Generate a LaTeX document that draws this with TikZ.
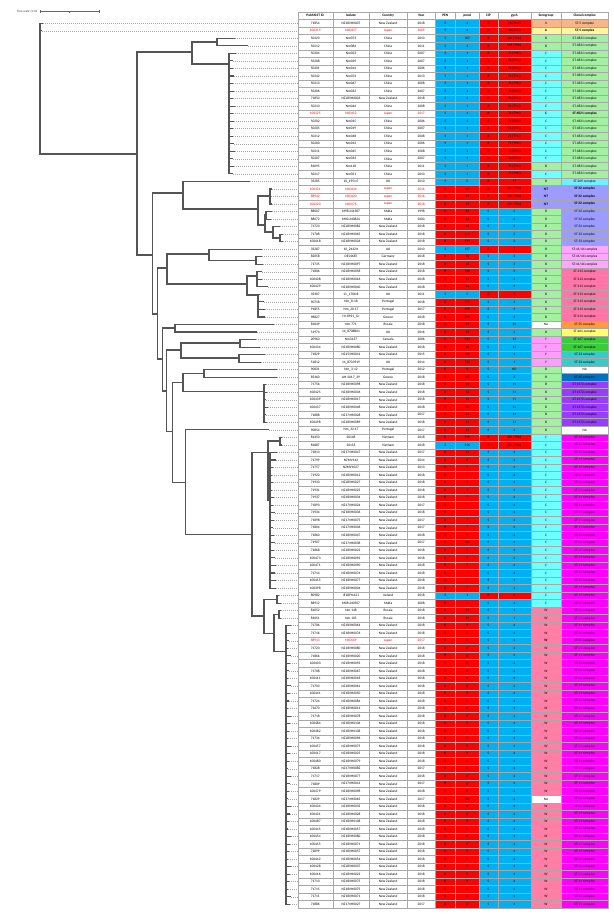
\documentclass[tikz,border=0pt]{standalone}
\usepackage{fontspec}
\setmainfont{Carlito}
\definecolor{resS}{HTML}{00B0F0}
\definecolor{resR}{HTML}{FF0000}
\definecolor{seroX}{HTML}{F8B58A}
\definecolor{seroA}{HTML}{FFF59D}
\definecolor{seroB}{HTML}{A3F0A3}
\definecolor{seroC}{HTML}{70FFFF}
\definecolor{seroNT}{HTML}{9C9CFF}
\definecolor{seroY}{HTML}{FF9CFF}
\definecolor{seroW}{HTML}{FF7FA6}
\definecolor{seroNA}{HTML}{FFFFFF}
\definecolor{cc5x}{HTML}{F8B58A}
\definecolor{cc5a}{HTML}{FFF59D}
\definecolor{cc4821}{HTML}{A3F0A3}
\definecolor{cc269}{HTML}{70F0FF}
\definecolor{cc32}{HTML}{9C9CFF}
\definecolor{cc4144}{HTML}{FFA6FF}
\definecolor{cc213}{HTML}{FF75A8}
\definecolor{cc35}{HTML}{FF9A3C}
\definecolor{cc461}{HTML}{FFFF6A}
\definecolor{cc167}{HTML}{3CCB3C}
\definecolor{cc23}{HTML}{36CCCC}
\definecolor{ccNA}{HTML}{FFFFFF}
\definecolor{cc60}{HTML}{0070C0}
\definecolor{cc1572}{HTML}{9A3CFF}
\definecolor{cc11}{HTML}{FF00FF}
\definecolor{jpred}{HTML}{FF0000}
\definecolor{gridc}{HTML}{A8A8A8}
\definecolor{treec}{HTML}{555555}
\newcommand\defcc[2]{\expandafter\def\csname cct#1\endcsname{#2}}
\defcc{5x}{ST-5 complex}\defcc{5a}{ST-5 complex}\defcc{4821}{ST-4821 complex}
\defcc{269}{ST-269 complex}\defcc{32}{ST-32 complex}\defcc{4144}{ST-41/44 complex}
\defcc{213}{ST-213 complex}\defcc{35}{ST-35 complex}\defcc{461}{ST-461 complex}
\defcc{167}{ST-167 complex}\defcc{23}{ST-23 complex}\defcc{NA}{NA}
\defcc{60}{ST-60 complex}\defcc{1572}{ST-1572 complex}\defcc{11}{ST-11 complex}
\newcommand\cellfont{\fontsize{3.5}{4}\selectfont}
\newif\ifjp
\tikzset{
  cellbox/.style={draw=gridc, line width=0.3pt, inner sep=0pt, outer sep=0pt,
    minimum height=7.53pt, font=\cellfont, anchor=center},
  branch/.style={draw=treec, line width=1.1pt},
  leafline/.style={draw=black!35, line width=0.5pt, dash pattern=on 0.7pt off 1.3pt},
  rowtext/.style={text=black}
}
\newcommand\tr[6]{%
  \xdef\curk{#1}%
  \pgfmathsetmacro\cy{23.3+7.53*(#1-1)}%
  \ifnum#6=1 \global\jptrue\tikzset{rowtext/.style={text=jpred}}%
  \else\global\jpfalse\tikzset{rowtext/.style={text=black}}\fi
  \node[cellbox, rowtext, minimum width=35pt] (c#1-1) at (315.2,\cy) {#2};
  \node[cellbox, rowtext, minimum width=36.6pt] (c#1-2) at (351,\cy) {#3};
  \node[cellbox, rowtext, minimum width=37.7pt] (c#1-3) at (388.15,\cy) {#4};
  \node[cellbox, rowtext, minimum width=28.3pt] (c#1-4) at (421.15,\cy) {#5};
}
\newcommand\tc[6]{%
  \node[cellbox, minimum width=20pt, fill=res#1] (c\curk-5) at (445.3,\cy) {#1};
  \node[cellbox, minimum width=24pt, fill=res#1] (c\curk-6) at (467.3,\cy) {#2};
  \node[cellbox, minimum width=18.4pt, fill=res#3] (c\curk-7) at (488.5,\cy) {#3};
  \node[cellbox, minimum width=33.3pt, fill=res#3] (c\curk-8) at (514.35,\cy) {#4};
  \node[cellbox, minimum width=30pt, fill=sero#5] (c\curk-9) at (546,\cy) {\ifjp\bfseries\fi #5};
  \node[cellbox, minimum width=47.3pt, fill=cc#6] (c\curk-10) at (584.65,\cy) {\ifjp\bfseries\fi\csname cct#6\endcsname};
}
\newcommand\rowC[6]{\tr{#1}{#2}{#3}{#4}{#5}{#6}\tc{S}{1}{R}{71 (T91I)}{C}{4821}}
\newcommand\rowE[5]{\tr{#1}{#2}{#3}{New Zealand}{#4}{0}\tc{R}{#5}{S}{4}{C}{11}}
\newcommand\rowW[4]{\tr{#1}{#2}{#3}{New Zealand}{#4}{0}\tc{R}{8}{S}{4}{W}{11}}
\newcommand\rowP[6]{\tr{#1}{#2}{#3}{New Zealand}{#4}{0}\tc{R}{#5}{S}{11}{B}{#6}}
\newcommand\tleaf[3]{%
  \coordinate (L#2) at (#3,{23.3+7.53*(#2-1)});
  \draw[leafline] (L#2) -- (L#2 -| tl);
  \draw[branch] (#1) |- (L#2);
}
\newcommand\tnode[4]{%
  \coordinate (#1) at (#3,#4);
  \draw[branch] (#2) |- (#1);
}
\begin{document}
\begin{tikzpicture}[x=1pt,y=-1pt]
\fill[white] (0,0) rectangle (613,915);
\useasboundingbox (0,0) rectangle (613,915);
\coordinate (tl) at (297.7,0);
% scale bar
\node[font=\fontsize{3.2}{4}\selectfont, text=black!75, anchor=east, inner sep=0pt] (scaletxt) at (37.5,11.7) {Tree scale: 0.01};
\coordinate (sb1) at (40,11.7);
\coordinate (sb2) at (99,11.7);
\coordinate (sbm) at (69.5,11.7);
\draw[draw=black!60, line width=0.5pt] (sb1) -- (sb2);
\draw[draw=black!60, line width=0.5pt] ([yshift=-1.3pt]sb1) -- ([yshift=1.3pt]sb1);
\draw[draw=black!60, line width=0.5pt] ([yshift=-1.3pt]sb2) -- ([yshift=1.3pt]sb2);
\draw[draw=black!60, line width=0.5pt] ([yshift=-1pt]sbm) -- ([yshift=1pt]sbm);
% tree
\coordinate (root) at (40,27);
\tleaf{root}{1}{43}
\tleaf{root}{2}{42}
\tnode{n137}{root}{137}{154}
\tnode{n192}{n137}{192}{52}
\tnode{n217}{n192}{217}{42}
\tleaf{n217}{3}{235}
\tleaf{n217}{4}{248}
\tnode{n229}{n192}{229}{64}
\foreach \k/\t in {5/236,6/233,7/233,8/234,9/233,10/234,11/233,12/235,13/233,14/234,15/233,16/233,17/234,18/235,19/233,20/234,21/233}{\tleaf{n229}{\k}{\t}}
\tnode{n152}{n137}{152.5}{255}
\tnode{n183}{n152}{183}{193}
\tleaf{n183}{22}{250}
\tnode{n258}{n183}{258}{209}
\tnode{n270}{n258}{270}{196}
\tleaf{n270}{23}{272}\tleaf{n270}{24}{271}\tleaf{n270}{25}{272}
\tnode{n265}{n258}{265}{225}
\tnode{n266}{n265}{266}{215}
\tleaf{n266}{26}{272}\tleaf{n266}{27}{271}
\tnode{n273}{n265}{273}{232}
\tleaf{n273}{28}{280}
\tnode{n280}{n273}{280}{238}
\tleaf{n280}{29}{283}\tleaf{n280}{30}{283}
\tnode{n157}{n152}{157.3}{314}
\tnode{n167}{n157}{167}{268}
\tnode{n209}{n167}{209}{254}
\tleaf{n209}{31}{262}
\tnode{n256}{n209}{256}{260.5}
\tleaf{n256}{32}{262}\tleaf{n256}{33}{263}
\tnode{n247}{n167}{247}{284}
\tnode{n257}{n247}{257}{276}
\tleaf{n257}{34}{262}\tleaf{n257}{35}{262}\tleaf{n257}{36}{268}
\tnode{n258b}{n247}{258}{295}
\tleaf{n258b}{37}{260}\tleaf{n258b}{38}{264}\tleaf{n258b}{39}{265}\tleaf{n258b}{40}{265}
\tnode{n162}{n157}{162.3}{359}
\tnode{n175}{n162}{175}{328}
\tleaf{n175}{41}{274}\tleaf{n175}{42}{257}
\tnode{n166}{n162}{166.7}{391}
\tnode{n181}{n166}{181}{350}
\tnode{n240}{n181}{240}{343}
\tleaf{n240}{43}{256}\tleaf{n240}{44}{260}
\tnode{n239}{n181}{239}{358}
\tleaf{n239}{45}{265}\tleaf{n239}{46}{261}
\tnode{n172}{n166}{172.3}{431.7}
\tnode{n183b}{n172}{183}{382.7}
\tnode{n204}{n183b}{204}{373.5}
\tleaf{n204}{47}{277}\tleaf{n204}{48}{277}
\tnode{n264}{n183b}{264}{391.7}
\foreach \k/\t in {49/266,50/267,51/266,52/268,53/266,54/267}{\tleaf{n264}{\k}{\t}}
\tnode{n186}{n172}{185.7}{482.3}
\tleaf{n186}{55}{269}
\tnode{n252}{n186}{252}{534.3}
\tnode{n268}{n252}{268}{452.3}
\tnode{n280b}{n268}{280}{441}
\tleaf{n280b}{56}{282}\tleaf{n280b}{57}{282}
\tnode{n270b}{n268}{270}{500}
\foreach \k/\t in {58/277,59/276,60/273,61/272,62/273,63/272,64/274,65/273,66/275,67/274,68/273,69/274,70/275,71/274,72/275,73/276,74/275,75/276,76/276}{\tleaf{n270b}{\k}{\t}}
\tnode{n264c}{n252}{264}{616}
\tnode{n277}{n264c}{277}{599.4}
\tleaf{n277}{77}{279}\tleaf{n277}{78}{281}
\tnode{n274}{n264c}{274}{633.3}
\tnode{n279}{n274}{279}{614.5}
\tleaf{n279}{79}{281}\tleaf{n279}{80}{281}
\tnode{n286}{n274}{286}{651.7}
\foreach \k in {81,...,118}{\pgfmathtruncatemacro\t{288+mod(\k*7,4)}\tleaf{n286}{\k}{\t}}
% table header
\node[cellbox, minimum width=35pt, minimum height=7.5pt, font=\cellfont\bfseries] (h1) at (315.2,15.75) {PubMLST ID};
\node[cellbox, minimum width=36.6pt, minimum height=7.5pt, font=\cellfont\bfseries] (h2) at (351,15.75) {Isolate};
\node[cellbox, minimum width=37.7pt, minimum height=7.5pt, font=\cellfont\bfseries] (h3) at (388.15,15.75) {Country};
\node[cellbox, minimum width=28.3pt, minimum height=7.5pt, font=\cellfont\bfseries] (h4) at (421.15,15.75) {Year};
\node[cellbox, minimum width=20pt, minimum height=7.5pt, font=\cellfont\bfseries] (h5) at (445.3,15.75) {PEN};
\node[cellbox, minimum width=24pt, minimum height=7.5pt, font=\cellfont\bfseries] (h6) at (467.3,15.75) {penA};
\node[cellbox, minimum width=18.4pt, minimum height=7.5pt, font=\cellfont\bfseries] (h7) at (488.5,15.75) {CIP};
\node[cellbox, minimum width=33.3pt, minimum height=7.5pt, font=\cellfont\bfseries] (h8) at (514.35,15.75) {gyrA};
\node[cellbox, minimum width=30pt, minimum height=7.5pt, font=\cellfont\bfseries] (h9) at (546,15.75) {Serogroup};
\node[cellbox, minimum width=47.3pt, minimum height=7.5pt, font=\cellfont\bfseries] (h10) at (584.65,15.75) {Clonal complex};
% table rows
\tr{1}{71854}{NZ18VH0007}{New Zealand}{2018}{0}\tc{S}{4}{R}{18 (T91I)}{X}{5x}
\tr{2}{106319}{NIID457}{Japan}{2009}{1}\tc{S}{4}{R}{18 (T91I)}{A}{5a}
\tr{3}{50223}{Nm073}{China}{2010}{0}\tc{S}{ND}{R}{166 (T91I)}{B}{4821}
\tr{4}{50212}{Nm084}{China}{2011}{0}\tc{S}{3}{R}{118 (T91I)}{B}{4821}
\rowC{5}{50204}{Nm023}{China}{2007}{0}
\rowC{6}{50208}{Nm039}{China}{2007}{0}
\rowC{7}{50201}{Nm014}{China}{2006}{0}
\rowC{8}{50242}{Nm074}{China}{2013}{0}
\rowC{9}{50213}{Nm047}{China}{2008}{0}
\rowC{10}{50206}{Nm032}{China}{2007}{0}
\rowC{11}{71850}{NZ18VH0003}{New Zealand}{2018}{0}
\rowC{12}{50210}{Nm044}{China}{2008}{0}
\rowC{13}{106325}{NIID452}{Japan}{2017}{1}
\rowC{14}{50202}{Nm015}{China}{2006}{0}
\rowC{15}{50205}{Nm019}{China}{2007}{0}
\rowC{16}{50212}{Nm048}{China}{2008}{0}
\rowC{17}{50200}{Nm012}{China}{2006}{0}
\rowC{18}{50211}{Nm045}{China}{2008}{0}
\rowC{19}{50207}{Nm033}{China}{2007}{0}
\tr{20}{81095}{Nm118}{China}{2011}{0}\tc{S}{1}{R}{71 (T91I)}{B}{4821}
\rowC{21}{50217}{Nm051}{China}{2010}{0}
\tr{22}{35285}{10\_1951 E}{UK}{2010}{0}\tc{S}{5}{R}{13}{B}{269}
\tr{23}{106321}{NIID434}{Japan}{2016}{1}\tc{R}{33}{R}{374 (T91I)}{NT}{32}
\tr{24}{88942}{NIID420}{Japan}{2016}{1}\tc{R}{33}{R}{374 (T91I)}{NT}{32}
\tr{25}{106320}{NIID576}{Japan}{2018}{1}\tc{R}{33}{R}{374 (T91I)}{NT}{32}
\tr{26}{88007}{M98 241387}{Malta}{1998}{0}\tc{R}{32}{S}{2}{B}{32}
\tr{27}{88072}{M00 240824}{Malta}{2000}{0}\tc{R}{32}{S}{2}{B}{32}
\tr{28}{71723}{NZ18VH0082}{New Zealand}{2018}{0}\tc{R}{10}{S}{2}{B}{32}
\tr{29}{71708}{NZ18VH0065}{New Zealand}{2018}{0}\tc{R}{414}{S}{2}{B}{32}
\tr{30}{100418}{NZ18VH0026}{New Zealand}{2018}{0}\tc{R}{414}{S}{2}{B}{32}
\tr{31}{35287}{10\_2432 K}{UK}{2010}{0}\tc{S}{197}{R}{3}{B}{4144}
\tr{32}{82058}{DE14687}{Germany}{2018}{0}\tc{R}{18}{S}{3}{B}{4144}
\tr{33}{71735}{NZ18VH0097}{New Zealand}{2018}{0}\tc{R}{18}{S}{3}{B}{4144}
\tr{34}{71806}{NZ18VH0058}{New Zealand}{2018}{0}\tc{R}{760}{S}{3}{B}{213}
\tr{35}{100408}{NZ18VH0016}{New Zealand}{2018}{0}\tc{R}{12}{S}{3}{B}{213}
\tr{36}{100429}{NZ18VH0040}{New Zealand}{2018}{0}\tc{R}{14}{S}{3}{B}{213}
\tr{37}{35307}{11\_1706 B}{UK}{2011}{0}\tc{S}{5}{R}{3}{B}{213}
\tr{38}{90758}{Nm\_8-18}{Portugal}{2018}{0}\tc{R}{295}{S}{3}{B}{213}
\tr{39}{91855}{Nm\_20-17}{Portugal}{2017}{0}\tc{R}{295}{S}{3}{B}{213}
\tr{40}{98827}{Hr-8921\_Gr}{Greece}{2018}{0}\tc{R}{299}{S}{3}{B}{213}
\tr{41}{81049}{Nm 771}{Russia}{2018}{0}\tc{R}{25}{S}{20}{NA}{35}
\tr{42}{51974}{14\_8708B01}{UK}{2016}{0}\tc{R}{32}{S}{2}{B}{461}
\tr{43}{20963}{Nm3137}{Canada}{2006}{0}\tc{R}{631}{S}{12}{Y}{167}
\tr{44}{100434}{NZ18VH0080}{New Zealand}{2018}{0}\tc{R}{18}{S}{12}{Y}{167}
\tr{45}{71829}{NZ15VH0041}{New Zealand}{2015}{0}\tc{R}{ND}{S}{1}{Y}{23}
\tr{46}{51812}{14\_8703919}{UK}{2014}{0}\tc{R}{722}{S}{1}{Y}{23}
\tr{47}{90831}{Nm\_3-12}{Portugal}{2012}{0}\tc{R}{9}{S}{ND}{B}{NA}
\tr{48}{85360}{AH-2017\_39}{Greece}{2018}{0}\tc{R}{ND}{S}{3}{B}{60}
\rowP{49}{71756}{NZ18VH0098}{2018}{12}{1572}
\rowP{50}{100425}{NZ18VH0036}{2018}{12}{1572}
\rowP{51}{100439}{NZ18VH0017}{2018}{12}{1572}
\rowP{52}{100437}{NZ18VH0048}{2018}{ND}{1572}
\rowP{53}{71888}{NZ17VH0028}{2017}{12}{1572}
\rowP{54}{100498}{NZ18VH0089}{2018}{12}{1572}
\tr{55}{90854}{Nm\_32-17}{Portugal}{2017}{0}\tc{R}{23}{S}{4}{B}{NA}
\tr{56}{81450}{20148}{Vietnam}{2018}{0}\tc{R}{316}{R}{381 (T91I)}{C}{11}
\tr{57}{81887}{20153}{Vietnam}{2018}{0}\tc{S}{316}{R}{381 (T91I)}{C}{11}
\rowE{58}{71813}{NZ17VH0047}{2017}{11}
\rowE{59}{71799}{NZMV142}{2014}{8}
\rowE{60}{71757}{NZMV1027}{2013}{7}
\rowE{61}{71920}{NZ18VH0012}{2018}{7}
\rowE{62}{71933}{NZ18VH0027}{2018}{7}
\rowE{63}{71931}{NZ18VH0025}{2018}{7}
\rowE{64}{71937}{NZ18VH0034}{2018}{7}
\rowE{65}{71893}{NZ17VH0024}{2017}{7}
\rowE{66}{71934}{NZ18VH0036}{2018}{7}
\rowE{67}{71898}{NZ17VH0075}{2017}{7}
\rowE{68}{71804}{NZ17VH0036}{2017}{7}
\rowE{69}{71860}{NZ18VH0047}{2018}{7}
\rowE{70}{71907}{NZ17VH0038}{2017}{ND}
\rowE{71}{71868}{NZ18VH0022}{2018}{7}
\rowE{72}{100473}{NZ18VH0092}{2018}{7}
\rowE{73}{100471}{NZ18VH0090}{2018}{7}
\rowE{74}{71714}{NZ18VH0074}{2018}{7}
\rowE{75}{100455}{NZ18VH0077}{2018}{7}
\rowE{76}{100398}{NZ18VH0004}{2018}{7}
\tr{77}{80982}{IE18Pm121}{Ireland}{2018}{0}\tc{S}{1}{R}{4}{C}{11}
\tr{78}{88912}{M08 240507}{Malta}{2008}{0}\tc{R}{1}{S}{4}{C}{11}
\tr{79}{81052}{Nm 148}{Russia}{2018}{0}\tc{R}{59}{S}{1}{W}{11}
\tr{80}{81051}{Nm 105}{Russia}{2018}{0}\tc{R}{59}{S}{1}{W}{11}
\rowW{81}{71706}{NZ18VH0064}{2018}
\rowW{82}{71716}{NZ18VH0076}{2018}
\tr{83}{88913}{NIID569}{Japan}{2017}{1}\tc{R}{8}{S}{4}{W}{11}
\rowW{84}{71720}{NZ18VH0080}{2018}
\rowW{85}{71866}{NZ18VH0020}{2018}
\rowW{86}{100403}{NZ18VH0092}{2018}
\rowW{87}{71708}{NZ18VH0067}{2018}
\rowW{88}{100411}{NZ18VH0018}{2018}
\rowW{89}{71703}{NZ18VH0061}{2018}
\rowW{90}{100441}{NZ18VH0050}{2018}
\rowW{91}{71724}{NZ18VH0084}{2018}
\rowW{92}{71670}{NZ18VH0014}{2018}
\rowW{93}{71718}{NZ18VH0078}{2018}
\rowW{94}{100484}{NZ18VH0106}{2018}
\rowW{95}{100482}{NZ18VH0108}{2018}
\rowW{96}{71734}{NZ18VH0096}{2018}
\rowW{97}{100457}{NZ18VH0075}{2018}
\rowW{98}{100417}{NZ18VH0025}{2018}
\rowW{99}{100480}{NZ18VH0079}{2018}
\rowW{100}{71828}{NZ17VH0082}{2017}
\rowW{101}{71717}{NZ18VH0077}{2018}
\rowW{102}{71809}{NZ17VH0041}{2017}
\rowW{103}{100479}{NZ18VH0098}{2018}
\tr{104}{71829}{NZ17VH0065}{New Zealand}{2017}{0}\tc{R}{ND}{S}{4}{NA}{11}
\rowW{105}{100434}{NZ18VH0035}{2018}
\rowW{106}{100431}{NZ18VH0028}{2018}
\rowW{107}{100487}{NZ18VH0108}{2018}
\rowW{108}{100445}{NZ18VH0057}{2018}
\rowW{109}{100454}{NZ18VH0080}{2018}
\rowW{110}{100455}{NZ18VH0071}{2018}
\rowW{111}{71899}{NZ18VH0057}{2018}
\rowW{112}{100442}{NZ18VH0054}{2018}
\rowW{113}{100428}{NZ18VH0037}{2018}
\rowW{114}{100416}{NZ18VH0022}{2018}
\rowW{115}{71713}{NZ18VH0075}{2018}
\rowW{116}{71715}{NZ18VH0075}{2018}
\rowW{117}{71711}{NZ18VH0071}{2018}
\rowW{118}{71886}{NZ17VH0027}{2017}
\end{tikzpicture}
\end{document}
